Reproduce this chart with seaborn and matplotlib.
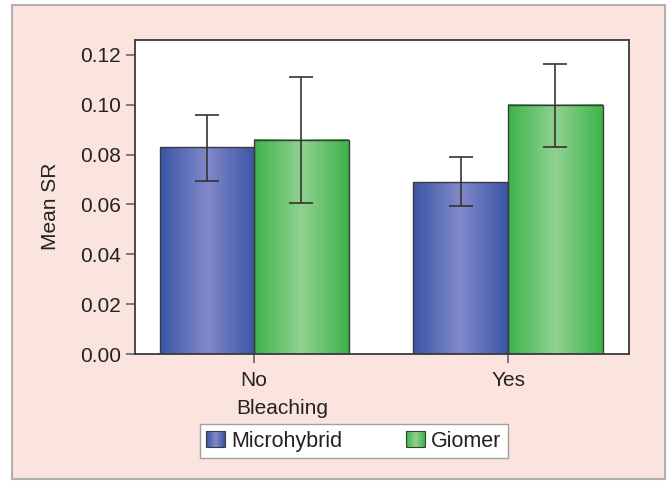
import numpy as np
import pandas as pd
import matplotlib
matplotlib.use("Agg")
import matplotlib.pyplot as plt
import seaborn as sns
from matplotlib.patches import Rectangle
from matplotlib.legend_handler import HandlerBase
from matplotlib.colors import LinearSegmentedColormap

# ---- data ----
bleaching = ["No", "No", "Yes", "Yes"]
materials = ["Microhybrid", "Giomer", "Microhybrid", "Giomer"]
mean_sr = [0.083, 0.086, 0.069, 0.100]
err_low = [0.0695, 0.0605, 0.0595, 0.083]
err_high = [0.096, 0.111, 0.079, 0.1165]
x_categories = ["No", "Yes"]
hue_order = ["Microhybrid", "Giomer"]
y_ticks = [0.00, 0.02, 0.04, 0.06, 0.08, 0.10, 0.12]

df = pd.DataFrame({"Bleaching": bleaching, "Material": materials, "Mean SR": mean_sr,
                   "lo": err_low, "hi": err_high})

edge_cols = {"Microhybrid": "#3a55a6", "Giomer": "#3cb44a"}
mid_cols = {"Microhybrid": "#8289c9", "Giomer": "#92d191"}

sns.set_style("white")
plt.rcParams["font.family"] = ["Liberation Sans", "DejaVu Sans"]
FS = 15

fig = plt.figure(figsize=(6.71, 4.83), dpi=100)
fig.patch.set_facecolor("white")
fig.patches.append(Rectangle((12 / 671, 1 - 479 / 483), 653 / 671, 474 / 483,
                             transform=fig.transFigure, facecolor="#fbe3de",
                             edgecolor="#b0b0b0", linewidth=1.5, zorder=-10))

ax = fig.add_axes([135 / 671, 1 - 354 / 483, 494 / 671, 314 / 483])
ax.set_facecolor("white")

sns.barplot(data=df, x="Bleaching", y="Mean SR", hue="Material", order=x_categories,
            hue_order=hue_order, errorbar=None, width=0.745, gap=0,
            palette=edge_cols, edgecolor="#3a3a3a", linewidth=1.0, ax=ax, legend=False)

def grad_cmap(name):
    return LinearSegmentedColormap.from_list(name, [edge_cols[name], mid_cols[name], edge_cols[name]])

grad = np.linspace(0, 1, 256).reshape(1, -1)
bars = [p for p in ax.patches if isinstance(p, Rectangle) and p.get_height() > 0]
# seaborn orders patches by hue then by category
ordered = []
for hname in hue_order:
    for cat in x_categories:
        ordered.append((cat, hname))
for p, (cat, hname) in zip(bars, ordered):
    x0, w, h = p.get_x(), p.get_width(), p.get_height()
    ax.imshow(grad, extent=[x0, x0 + w, 0, h], aspect="auto", cmap=grad_cmap(hname),
              zorder=p.get_zorder() - 0.05, interpolation="bilinear")
    p.set_facecolor("none")
    row = df[(df["Bleaching"] == cat) & (df["Material"] == hname)].iloc[0]
    xc = x0 + w / 2
    ax.errorbar([xc], [row["Mean SR"]],
                yerr=[[row["Mean SR"] - row["lo"]], [row["hi"] - row["Mean SR"]]],
                fmt="none", ecolor="#333333", elinewidth=1.2, capsize=8.5, capthick=1.2,
                zorder=5)

ax.set_xlim(-0.469, 1.476)
ax.set_ylim(0, 0.126)
ax.set_yticks(y_ticks)
ax.set_yticklabels([f"{v:.2f}" for v in y_ticks])
for s in ax.spines.values():
    s.set_visible(True)
    s.set_color("#3a3a3a")
    s.set_linewidth(1.3)
ax.tick_params(axis="both", which="major", direction="out", length=6.5, width=1.2,
               color="#666666", labelsize=FS, labelcolor="#222222", left=True, bottom=True)
ax.tick_params(axis="y", pad=3.5)
ax.tick_params(axis="x", pad=6)

ax.set_xlabel("Bleaching", fontsize=FS, color="#222222")
ax.set_ylabel("Mean SR", fontsize=FS, color="#222222")
ax.xaxis.set_label_coords(0.298, -0.143)
ax.yaxis.set_label_coords(-0.152, 0.47)


class GradHandler(HandlerBase):
    def __init__(self, name):
        super().__init__()
        self.name = name

    def create_artists(self, legend, orig_handle, xdescent, ydescent, width, height, fontsize, trans):
        cmap = grad_cmap(self.name)
        n = 12
        arts = []
        for i in range(n):
            arts.append(Rectangle((-xdescent + i * width / n, -ydescent), width / n + 0.3, height,
                                  facecolor=cmap((i + 0.5) / n), edgecolor="none", transform=trans))
        arts.append(Rectangle((-xdescent, -ydescent), width, height, facecolor="none",
                              edgecolor="#3a3a3a", linewidth=0.8, transform=trans))
        return arts


h1 = Rectangle((0, 0), 1, 1)
h2 = Rectangle((0, 0), 1, 1)
leg = fig.legend([h1, h2], hue_order, handler_map={h1: GradHandler("Microhybrid"), h2: GradHandler("Giomer")},
                 ncol=2, loc="lower left", mode="expand",
                 bbox_to_anchor=(200 / 671, 1 - 458 / 483, 308 / 671, 34 / 483),
                 bbox_transform=fig.transFigure, frameon=True, fancybox=False, framealpha=1.0,
                 fontsize=15.5, handlelength=0.85, handleheight=0.8, handletextpad=0.3,
                 borderpad=0.3, borderaxespad=0)
leg.get_frame().set_facecolor("white")
leg.get_frame().set_edgecolor("#a0a0a0")
leg.get_frame().set_linewidth(1.0)
for t in leg.get_texts():
    t.set_color("#222222")

fig.savefig("out.png", dpi=100, facecolor="white")
